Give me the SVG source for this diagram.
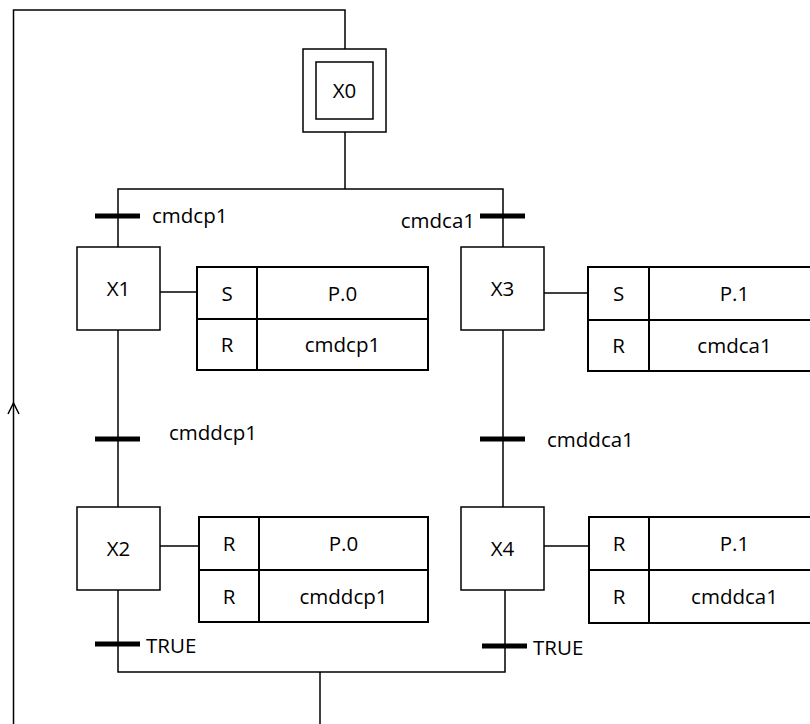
<svg xmlns="http://www.w3.org/2000/svg" width="810" height="724" viewBox="0 0 810 724">
<style>
.ln{fill:none;stroke:#000;stroke-width:1.5}
.bx{fill:#fff;stroke:#000;stroke-width:1.5}
.tb{fill:#fff;stroke:#000;stroke-width:2}
.bar{stroke:#000;stroke-width:5}
text{font-family:"Open Sans","Liberation Sans",sans-serif;font-size:20.5px;fill:#000}
.c{text-anchor:middle}
</style>
<rect width="810" height="724" fill="#fff"/>
<g id="connectors">
<path class="ln" d="M345,49 V10 H13.5 V724"/>
<path class="ln" d="M8,414 L13.5,403 L19,414"/>
<path class="ln" d="M345,132 V189"/>
<path class="ln" d="M118,247 V189 H503 V247"/>
<path class="ln" d="M118,330 V507"/>
<path class="ln" d="M503,330 V507"/>
<path class="ln" d="M118,590 V672 H505 V590"/>
<path class="ln" d="M320,672 V724"/>
<path class="ln" d="M160,292 H197"/>
<path class="ln" d="M544,293 H588"/>
<path class="ln" d="M160,546 H199"/>
<path class="ln" d="M544,546 H589"/>
<line class="bar" x1="95" y1="216" x2="140" y2="216"/>
<line class="bar" x1="480" y1="216" x2="525" y2="216"/>
<line class="bar" x1="95" y1="439" x2="140" y2="439"/>
<line class="bar" x1="480" y1="439" x2="525" y2="439"/>
<line class="bar" x1="95" y1="644" x2="140" y2="644"/>
<line class="bar" x1="482" y1="646" x2="527" y2="646"/>
<text x="152" y="223">cmdcp1</text>
<text x="475" y="228" text-anchor="end">cmdca1</text>
<text x="169" y="440">cmddcp1</text>
<text x="547" y="447">cmddca1</text>
<text x="146" y="653">TRUE</text>
<text x="533" y="655">TRUE</text>
</g>
<g id="X0">
<rect class="bx" x="303" y="49" width="83" height="83"/>
<rect class="bx" x="316" y="62" width="57" height="57"/>
<text class="c" x="344.5" y="98">X0</text>
</g>
<g id="X1">
<rect class="bx" x="77" y="247" width="83" height="83"/>
<text class="c" x="118.5" y="296">X1</text>
</g>
<g id="X3">
<rect class="bx" x="461" y="247" width="83" height="83"/>
<text class="c" x="502.5" y="296">X3</text>
</g>
<g id="X2">
<rect class="bx" x="77" y="507" width="83" height="83"/>
<text class="c" x="118.5" y="556">X2</text>
</g>
<g id="X4">
<rect class="bx" x="461" y="507" width="83" height="83"/>
<text class="c" x="502.5" y="556">X4</text>
</g>
<g id="A1">
<rect class="tb" x="197" y="267" width="231" height="103"/>
<path class="tb" d="M257,267 V370 M197,319 H428"/>
<text class="c" x="227" y="301">S</text>
<text class="c" x="342.5" y="301">P.0</text>
<text class="c" x="227" y="352">R</text>
<text class="c" x="342.5" y="352">cmdcp1</text>
</g>
<g id="A3">
<rect class="tb" x="588" y="267" width="232" height="104"/>
<path class="tb" d="M649,267 V371 M588,320 H820"/>
<text class="c" x="618.5" y="301">S</text>
<text class="c" x="734.5" y="301">P.1</text>
<text class="c" x="618.5" y="353">R</text>
<text class="c" x="734.5" y="353">cmdca1</text>
</g>
<g id="A2">
<rect class="tb" x="199" y="517" width="229" height="105"/>
<path class="tb" d="M259,517 V622 M199,570 H428"/>
<text class="c" x="229" y="551">R</text>
<text class="c" x="343.5" y="551">P.0</text>
<text class="c" x="229" y="604">R</text>
<text class="c" x="343.5" y="604">cmddcp1</text>
</g>
<g id="A4">
<rect class="tb" x="589" y="517" width="231" height="106"/>
<path class="tb" d="M649,517 V623 M589,570 H820"/>
<text class="c" x="619" y="551">R</text>
<text class="c" x="734.5" y="551">P.1</text>
<text class="c" x="619" y="604">R</text>
<text class="c" x="734.5" y="604">cmddca1</text>
</g>
</svg>
